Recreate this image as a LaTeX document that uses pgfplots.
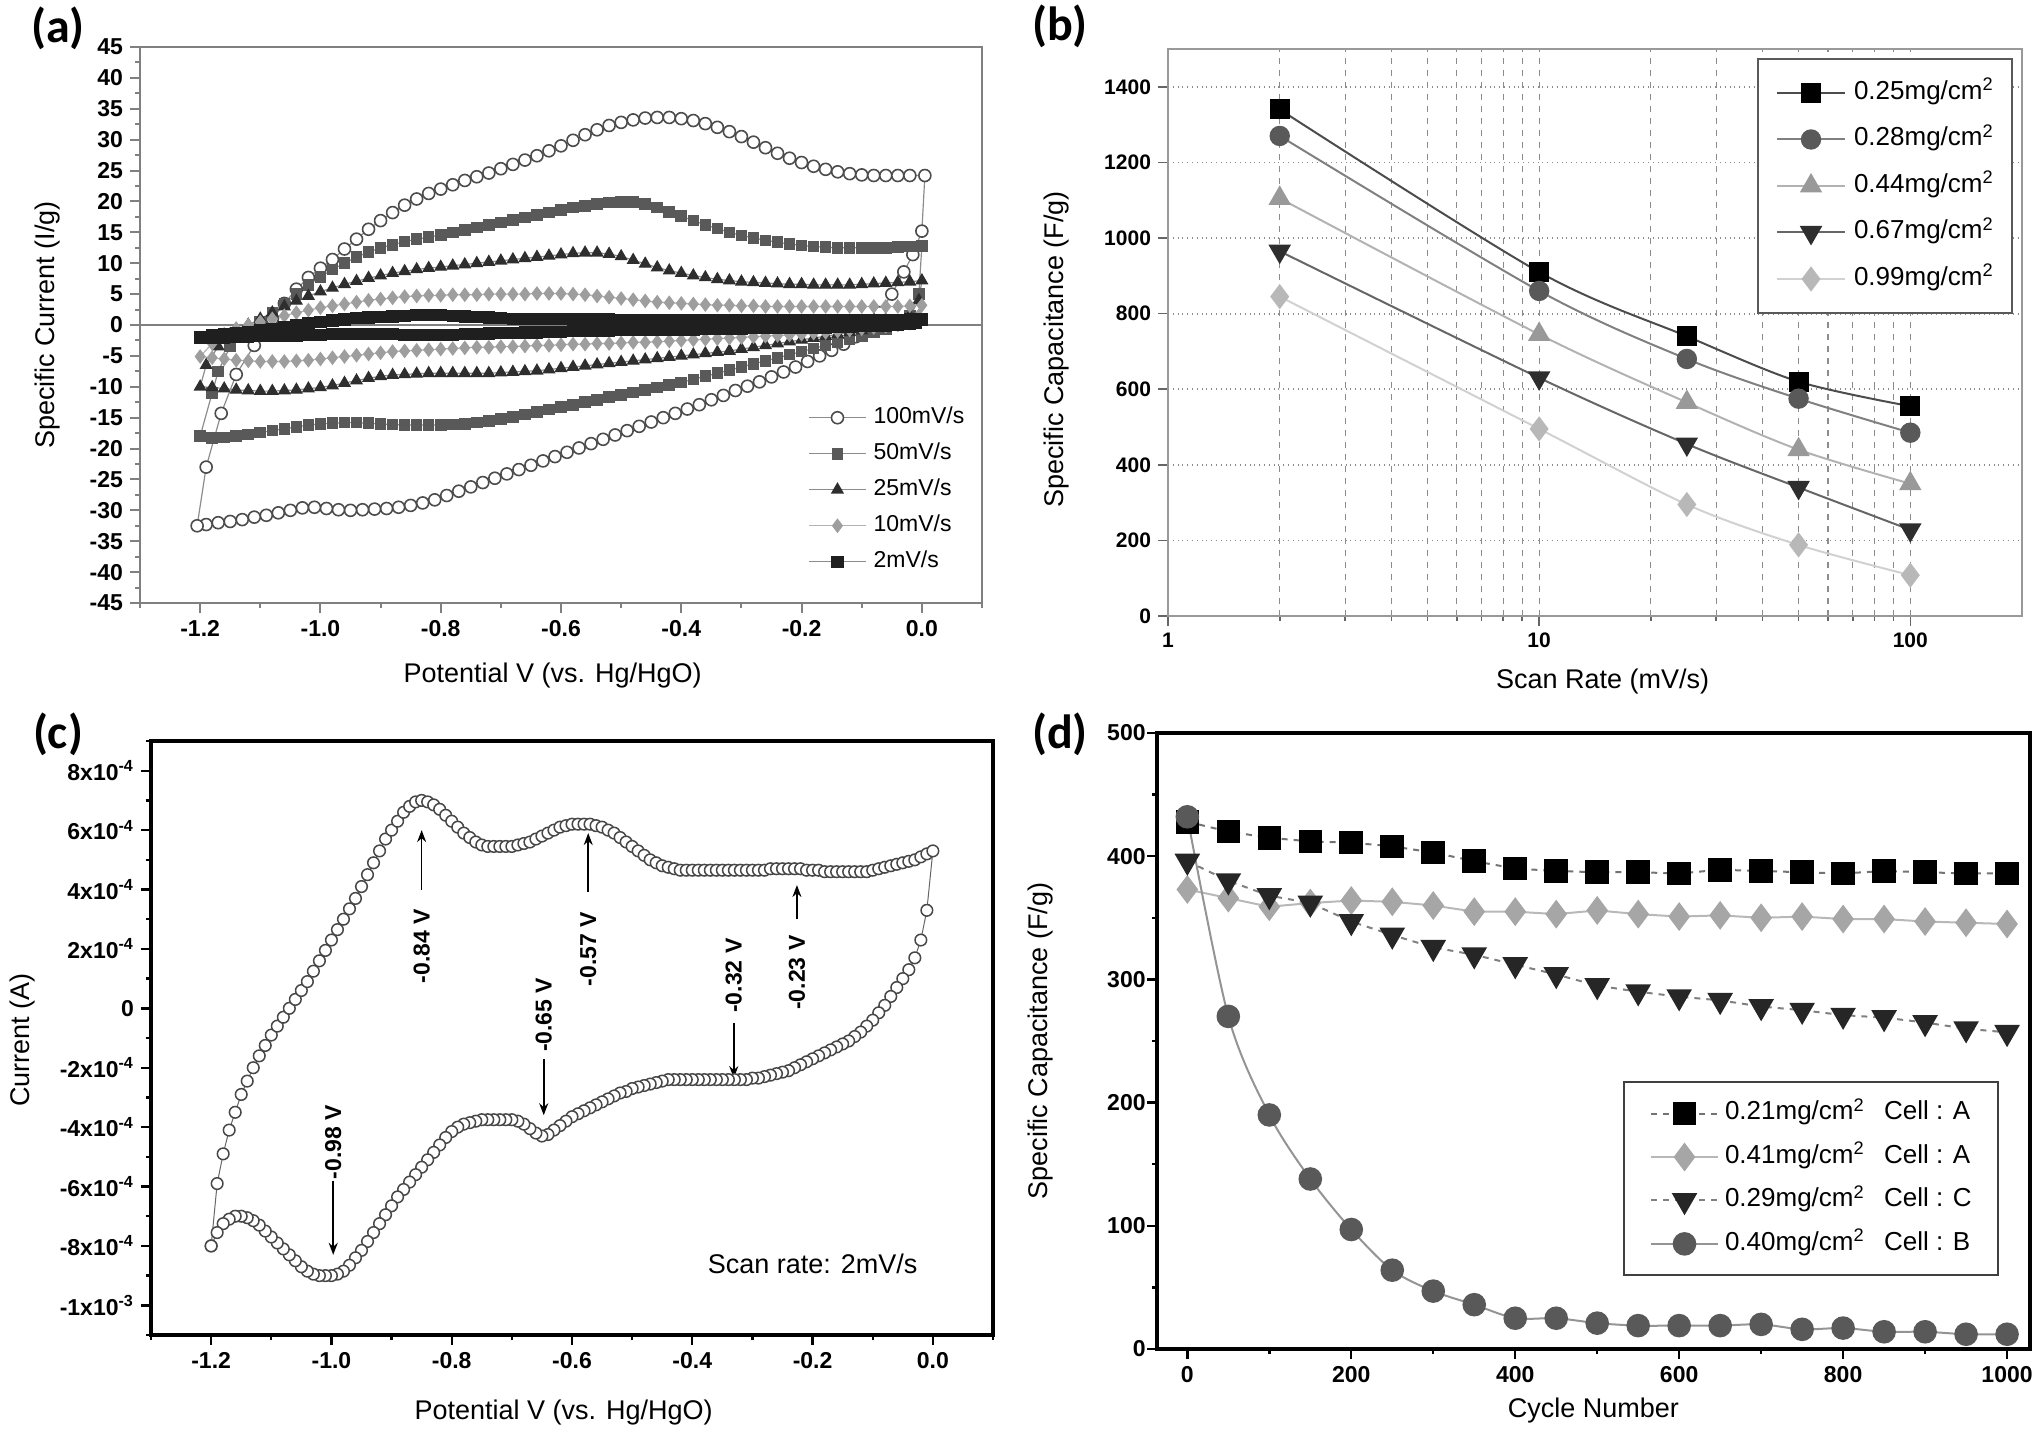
\documentclass[border=0pt]{standalone}
\usepackage{fontspec}
\setmainfont{Liberation Sans}
\newfontfamily\carlito{Carlito}
\usepackage{pgfplots}
\pgfplotsset{compat=1.18}
\usetikzlibrary{arrows.meta}

\pgfplotsset{
  myax/.style={scale only axis, anchor=south west, tick align=outside,
    xtick pos=left, ytick pos=left,
    xticklabel style={font=\fontsize{11.5}{13}\selectfont\bfseries},
    yticklabel style={font=\fontsize{11.5}{13}\selectfont\bfseries},
    label style={font=\fontsize{13.5}{16}\selectfont},
    major tick length=5pt, minor tick length=2.5pt,
    /pgf/number format/assume math mode=true,
    legend cell align=left},
  limg/.style={legend image code/.code={\draw[mark repeat=2,mark phase=2,##1] plot coordinates {(0pt,0pt) (#1/2,0pt) (#1,0pt)};}},
}

\begin{document}
\begin{tikzpicture}
\path[use as bounding box] (0pt,0pt) rectangle (1019.5pt,-723.5pt);

% ---------------- (a) ----------------
\begin{axis}[myax, at={(70pt,-301.5pt)}, width=421pt, height=278pt,
  xmin=-1.3, xmax=0.1, ymin=-45, ymax=45,
  xtick={-1.2,-1,-0.8,-0.6,-0.4,-0.2,0}, xticklabels={-1.2,-1.0,-0.8,-0.6,-0.4,-0.2,0.0},
  minor xtick={-1.3,-1.1,-0.9,-0.7,-0.5,-0.3,-0.1,0.1},
  ytick={-45,-40,-35,-30,-25,-20,-15,-10,-5,0,5,10,15,20,25,30,35,40,45},
  yticklabels={-45,-40,-35,-30,-25,-20,-15,-10,-5,0,5,10,15,20,25,30,35,40,45},
  minor ytick={-42.5,-37.5,-32.5,-27.5,-22.5,-17.5,-12.5,-7.5,-2.5,2.5,7.5,12.5,17.5,22.5,27.5,32.5,37.5,42.5},
  axis line style={black!50, line width=1pt}, every tick/.style={black!50, line width=1pt},
  xlabel={Potential V (vs. Hg/HgO)}, xlabel style={at={(axis description cs:0.49,-0.13)}, anchor=center},
  ylabel={Specific Current (I/g)}, ylabel style={at={(axis description cs:-0.11,0.5)}, anchor=center},
  limg=28.5pt,
  legend style={draw=none, fill=none, at={(rel axis cs:0.7933,0.3534)}, anchor=north west, inner sep=0pt,
    font=\fontsize{11.5}{13}\selectfont, nodes={inner sep=0pt, text height=8.3pt, text depth=2.5pt},
    row sep=7.2pt, /tikz/every odd column/.append style={column sep=3.5pt}},
]
\addplot[black!50, line width=1pt, forget plot] coordinates {(-1.3,0)(0.1,0)};
\addplot[color=black!45, line width=0.6pt, mark=*, mark size=3pt, mark options={fill=white, draw=black!70, line width=0.8pt}] coordinates {
(-1.08,1.0)(-1.06,3.5)(-1.04,5.8)(-1.02,7.7)(-1.00,9.2)(-0.98,10.6)(-0.96,12.3)(-0.94,13.9)(-0.92,15.5)(-0.90,16.9)(-0.88,18.2)(-0.86,19.4)(-0.84,20.4)(-0.82,21.3)(-0.80,22.0)(-0.78,22.7)(-0.76,23.4)(-0.74,24.0)(-0.72,24.6)(-0.70,25.3)(-0.68,26.0)(-0.66,26.7)(-0.64,27.4)(-0.62,28.2)(-0.60,29.0)(-0.58,29.9)(-0.56,30.8)(-0.54,31.6)(-0.52,32.3)(-0.50,32.8)(-0.48,33.2)(-0.46,33.5)(-0.44,33.6)(-0.42,33.6)(-0.40,33.4)(-0.38,33.1)(-0.36,32.6)(-0.34,32.0)(-0.32,31.3)(-0.30,30.5)(-0.28,29.6)(-0.26,28.7)(-0.24,27.8)(-0.22,27.0)(-0.20,26.3)(-0.18,25.7)(-0.16,25.2)(-0.14,24.8)(-0.12,24.5)(-0.10,24.3)(-0.08,24.2)(-0.06,24.2)(-0.04,24.2)(-0.02,24.2)(0.005,24.2)
(0.0,15.2)(-0.015,11.4)(-0.03,8.6)(-0.05,5.0)(-0.07,2.0)
(-0.09,-0.6)(-0.11,-1.9)(-0.13,-3.1)(-0.15,-4.1)(-0.17,-5.0)(-0.19,-5.9)(-0.21,-6.8)(-0.23,-7.6)(-0.25,-8.4)(-0.27,-9.2)(-0.29,-9.9)(-0.31,-10.6)(-0.33,-11.4)(-0.35,-12.1)(-0.37,-12.9)(-0.39,-13.6)(-0.41,-14.3)(-0.43,-15.0)(-0.45,-15.7)(-0.47,-16.4)(-0.49,-17.1)(-0.51,-17.8)(-0.53,-18.5)(-0.55,-19.2)(-0.57,-19.9)(-0.59,-20.6)(-0.61,-21.3)(-0.63,-22.0)(-0.65,-22.7)(-0.67,-23.4)(-0.69,-24.1)(-0.71,-24.8)(-0.73,-25.5)(-0.75,-26.2)(-0.77,-26.9)(-0.79,-27.6)(-0.81,-28.3)(-0.83,-28.8)(-0.85,-29.2)(-0.87,-29.5)(-0.89,-29.7)(-0.91,-29.8)(-0.93,-29.9)(-0.95,-30.0)(-0.97,-29.9)(-0.99,-29.7)(-1.01,-29.5)(-1.03,-29.6)(-1.05,-30.0)(-1.07,-30.4)(-1.09,-30.8)(-1.11,-31.1)(-1.13,-31.5)(-1.15,-31.8)(-1.17,-32.0)(-1.19,-32.3)(-1.205,-32.5)
(-1.19,-23.0)(-1.165,-14.3)(-1.14,-8.0)(-1.11,-3.3)(-1.08,1.0)};
\addlegendentry{100mV/s}
\addplot[color=black!45, line width=0.6pt, mark=square*, mark size=2.6pt, mark options={fill=black!65, draw=black!65}] coordinates {
(-1.12,-1.0)(-1.10,0.5)(-1.08,2.0)(-1.06,3.5)(-1.04,5.0)(-1.02,6.5)(-1.00,7.8)(-0.98,9.0)(-0.96,10.0)(-0.94,11.0)(-0.92,11.8)(-0.90,12.5)(-0.88,13.0)(-0.86,13.5)(-0.84,13.9)(-0.82,14.2)(-0.80,14.6)(-0.78,15.0)(-0.76,15.4)(-0.74,15.8)(-0.72,16.2)(-0.70,16.6)(-0.68,17.0)(-0.66,17.4)(-0.64,17.8)(-0.62,18.2)(-0.60,18.6)(-0.58,19.0)(-0.56,19.3)(-0.54,19.6)(-0.52,19.8)(-0.50,19.9)(-0.48,19.9)(-0.46,19.6)(-0.44,19.0)(-0.42,18.3)(-0.40,17.6)(-0.38,16.9)(-0.36,16.2)(-0.34,15.6)(-0.32,15.0)(-0.30,14.5)(-0.28,14.1)(-0.26,13.7)(-0.24,13.4)(-0.22,13.1)(-0.20,12.9)(-0.18,12.7)(-0.16,12.6)(-0.14,12.5)(-0.12,12.5)(-0.10,12.5)(-0.08,12.5)(-0.06,12.5)(-0.04,12.6)(-0.02,12.7)(0.0,12.8)
(-0.005,5.0)(-0.02,1.5)
(-0.04,0.0)(-0.06,-0.6)(-0.08,-1.2)(-0.10,-1.8)(-0.12,-2.3)(-0.14,-2.8)(-0.16,-3.3)(-0.18,-3.8)(-0.20,-4.3)(-0.22,-4.8)(-0.24,-5.3)(-0.26,-5.8)(-0.28,-6.3)(-0.30,-6.8)(-0.32,-7.3)(-0.34,-7.8)(-0.36,-8.3)(-0.38,-8.8)(-0.40,-9.3)(-0.42,-9.7)(-0.44,-10.1)(-0.46,-10.5)(-0.48,-10.9)(-0.50,-11.3)(-0.52,-11.7)(-0.54,-12.1)(-0.56,-12.5)(-0.58,-12.9)(-0.60,-13.3)(-0.62,-13.7)(-0.64,-14.1)(-0.66,-14.5)(-0.68,-14.9)(-0.70,-15.2)(-0.72,-15.5)(-0.74,-15.8)(-0.76,-16.0)(-0.78,-16.1)(-0.80,-16.2)(-0.82,-16.2)(-0.84,-16.2)(-0.86,-16.2)(-0.88,-16.1)(-0.90,-16.0)(-0.92,-15.9)(-0.94,-15.8)(-0.96,-15.8)(-0.98,-15.9)(-1.00,-16.0)(-1.02,-16.2)(-1.04,-16.5)(-1.06,-16.8)(-1.08,-17.1)(-1.10,-17.4)(-1.12,-17.7)(-1.14,-18.0)(-1.16,-18.2)(-1.18,-18.3)(-1.20,-18.0)
(-1.18,-11.0)(-1.17,-7.5)(-1.15,-3.5)(-1.12,-1.0)};
\addlegendentry{50mV/s}
\addplot[color=black!45, line width=0.6pt, mark=triangle*, mark size=3.2pt, mark options={fill=black!82, draw=black!82}] coordinates {
(-1.12,0.0)(-1.10,1.0)(-1.08,2.0)(-1.06,3.0)(-1.04,3.9)(-1.02,4.7)(-1.00,5.4)(-0.98,6.0)(-0.96,6.6)(-0.94,7.1)(-0.92,7.6)(-0.90,8.0)(-0.88,8.4)(-0.86,8.7)(-0.84,9.0)(-0.82,9.2)(-0.80,9.4)(-0.78,9.6)(-0.76,9.8)(-0.74,10.0)(-0.72,10.2)(-0.70,10.4)(-0.68,10.6)(-0.66,10.8)(-0.64,11.0)(-0.62,11.2)(-0.60,11.4)(-0.58,11.6)(-0.56,11.7)(-0.54,11.7)(-0.52,11.5)(-0.50,11.1)(-0.48,10.5)(-0.46,9.9)(-0.44,9.3)(-0.42,8.8)(-0.40,8.4)(-0.38,8.0)(-0.36,7.7)(-0.34,7.4)(-0.32,7.2)(-0.30,7.0)(-0.28,6.9)(-0.26,6.8)(-0.24,6.7)(-0.22,6.6)(-0.20,6.6)(-0.18,6.5)(-0.16,6.5)(-0.14,6.5)(-0.12,6.5)(-0.10,6.6)(-0.08,6.7)(-0.06,6.8)(-0.04,6.9)(-0.02,7.0)(0.0,7.2)
(-0.005,4.0)(-0.02,1.5)
(-0.04,0.3)(-0.06,-0.1)(-0.08,-0.5)(-0.10,-0.9)(-0.12,-1.2)(-0.14,-1.5)(-0.16,-1.8)(-0.18,-2.1)(-0.20,-2.4)(-0.22,-2.7)(-0.24,-3.0)(-0.26,-3.3)(-0.28,-3.6)(-0.30,-3.9)(-0.32,-4.2)(-0.34,-4.4)(-0.36,-4.6)(-0.38,-4.8)(-0.40,-5.0)(-0.42,-5.2)(-0.44,-5.4)(-0.46,-5.6)(-0.48,-5.8)(-0.50,-6.0)(-0.52,-6.2)(-0.54,-6.4)(-0.56,-6.6)(-0.58,-6.8)(-0.60,-7.0)(-0.62,-7.2)(-0.64,-7.4)(-0.66,-7.5)(-0.68,-7.6)(-0.70,-7.7)(-0.72,-7.8)(-0.74,-7.8)(-0.76,-7.8)(-0.78,-7.8)(-0.80,-7.8)(-0.82,-7.8)(-0.84,-7.9)(-0.86,-8.0)(-0.88,-8.1)(-0.90,-8.3)(-0.92,-8.6)(-0.94,-9.0)(-0.96,-9.4)(-0.98,-9.8)(-1.00,-10.1)(-1.02,-10.3)(-1.04,-10.5)(-1.06,-10.6)(-1.08,-10.7)(-1.10,-10.7)(-1.12,-10.6)(-1.14,-10.5)(-1.16,-10.3)(-1.18,-10.1)(-1.20,-10.0)
(-1.19,-6.5)(-1.17,-3.5)(-1.15,-1.5)(-1.12,0.0)};
\addlegendentry{25mV/s}
\addplot[color=black!30, line width=0.6pt, mark=diamond*, mark size=3.2pt, mark options={fill=black!38, draw=black!38}] coordinates {
(-1.14,-0.6)(-1.12,0.0)(-1.10,0.5)(-1.08,1.0)(-1.06,1.5)(-1.04,2.0)(-1.02,2.4)(-1.00,2.8)(-0.98,3.1)(-0.96,3.4)(-0.94,3.7)(-0.92,4.0)(-0.90,4.2)(-0.88,4.4)(-0.86,4.6)(-0.84,4.7)(-0.82,4.8)(-0.80,4.8)(-0.78,4.9)(-0.76,4.9)(-0.74,4.9)(-0.72,5.0)(-0.70,5.0)(-0.68,5.0)(-0.66,5.0)(-0.64,5.1)(-0.62,5.1)(-0.60,5.1)(-0.58,5.0)(-0.56,4.9)(-0.54,4.7)(-0.52,4.5)(-0.50,4.3)(-0.48,4.1)(-0.46,3.9)(-0.44,3.7)(-0.42,3.6)(-0.40,3.5)(-0.38,3.4)(-0.36,3.3)(-0.34,3.2)(-0.32,3.2)(-0.30,3.1)(-0.28,3.1)(-0.26,3.0)(-0.24,3.0)(-0.22,3.0)(-0.20,3.0)(-0.18,3.0)(-0.16,3.0)(-0.14,3.0)(-0.12,3.0)(-0.10,3.0)(-0.08,3.0)(-0.06,3.0)(-0.04,3.0)(-0.02,3.1)(0.0,3.2)
(-0.005,1.5)
(-0.02,0.3)(-0.04,0.0)(-0.06,-0.2)(-0.08,-0.4)(-0.10,-0.6)(-0.12,-0.8)(-0.14,-1.0)(-0.16,-1.2)(-0.18,-1.3)(-0.20,-1.5)(-0.22,-1.6)(-0.24,-1.7)(-0.26,-1.8)(-0.28,-1.9)(-0.30,-2.0)(-0.32,-2.1)(-0.34,-2.2)(-0.36,-2.3)(-0.38,-2.4)(-0.40,-2.5)(-0.42,-2.6)(-0.44,-2.7)(-0.46,-2.8)(-0.48,-2.8)(-0.50,-2.9)(-0.52,-3.0)(-0.54,-3.0)(-0.56,-3.1)(-0.58,-3.1)(-0.60,-3.2)(-0.62,-3.3)(-0.64,-3.3)(-0.66,-3.4)(-0.68,-3.5)(-0.70,-3.5)(-0.72,-3.6)(-0.74,-3.6)(-0.76,-3.7)(-0.78,-3.8)(-0.80,-3.9)(-0.82,-4.0)(-0.84,-4.1)(-0.86,-4.2)(-0.88,-4.3)(-0.90,-4.5)(-0.92,-4.7)(-0.94,-4.9)(-0.96,-5.1)(-0.98,-5.3)(-1.00,-5.5)(-1.02,-5.7)(-1.04,-5.8)(-1.06,-5.9)(-1.08,-5.9)(-1.10,-5.9)(-1.12,-5.8)(-1.14,-5.7)(-1.16,-5.5)(-1.18,-5.3)(-1.20,-5.1)
(-1.18,-3.0)(-1.16,-1.5)(-1.14,-0.6)};
\addlegendentry{10mV/s}
\addplot[color=black!45, line width=0.6pt, mark=square*, mark size=2.8pt, mark options={fill=black!88, draw=black!88}] coordinates {
(-1.20,-1.9)(-1.18,-1.7)(-1.16,-1.5)(-1.14,-1.3)(-1.12,-1.1)(-1.10,-0.9)(-1.08,-0.6)(-1.06,-0.3)(-1.04,0.0)(-1.02,0.3)(-1.00,0.5)(-0.98,0.7)(-0.96,0.9)(-0.94,1.1)(-0.92,1.2)(-0.90,1.3)(-0.88,1.4)(-0.86,1.5)(-0.84,1.6)(-0.82,1.6)(-0.80,1.6)(-0.78,1.5)(-0.76,1.4)(-0.74,1.3)(-0.72,1.2)(-0.70,1.1)(-0.68,1.0)(-0.66,1.0)(-0.64,1.0)(-0.62,1.0)(-0.60,1.0)(-0.58,1.0)(-0.56,1.0)(-0.54,0.9)(-0.52,0.9)(-0.50,0.8)(-0.48,0.8)(-0.46,0.8)(-0.44,0.8)(-0.42,0.8)(-0.40,0.8)(-0.38,0.8)(-0.36,0.8)(-0.34,0.8)(-0.32,0.8)(-0.30,0.8)(-0.28,0.8)(-0.26,0.8)(-0.24,0.8)(-0.22,0.8)(-0.20,0.8)(-0.18,0.8)(-0.16,0.8)(-0.14,0.8)(-0.12,0.8)(-0.10,0.8)(-0.08,0.8)(-0.06,0.8)(-0.04,0.8)(-0.02,0.9)(0.0,0.9)
(-0.01,0.4)(-0.02,0.2)(-0.04,0.0)(-0.06,-0.1)(-0.08,-0.2)(-0.10,-0.2)(-0.12,-0.3)(-0.14,-0.3)(-0.16,-0.4)(-0.18,-0.4)(-0.20,-0.4)(-0.22,-0.5)(-0.24,-0.5)(-0.26,-0.5)(-0.28,-0.5)(-0.30,-0.6)(-0.32,-0.6)(-0.34,-0.6)(-0.36,-0.6)(-0.38,-0.7)(-0.40,-0.7)(-0.42,-0.7)(-0.44,-0.7)(-0.46,-0.8)(-0.48,-0.8)(-0.50,-0.8)(-0.52,-0.9)(-0.54,-0.9)(-0.56,-1.0)(-0.58,-1.0)(-0.60,-1.1)(-0.62,-1.1)(-0.64,-1.2)(-0.66,-1.2)(-0.68,-1.3)(-0.70,-1.3)(-0.72,-1.4)(-0.74,-1.5)(-0.76,-1.5)(-0.78,-1.6)(-0.80,-1.6)(-0.82,-1.6)(-0.84,-1.6)(-0.86,-1.6)(-0.88,-1.5)(-0.90,-1.5)(-0.92,-1.5)(-0.94,-1.5)(-0.96,-1.5)(-0.98,-1.5)(-1.00,-1.6)(-1.02,-1.6)(-1.04,-1.7)(-1.06,-1.7)(-1.08,-1.8)(-1.10,-1.8)(-1.12,-1.9)(-1.14,-1.9)(-1.16,-2.0)(-1.18,-2.0)(-1.20,-2.0)};
\addlegendentry{2mV/s}
\end{axis}

% ---------------- (b) ----------------
\begin{axis}[myax, at={(584pt,-308pt)}, width=427pt, height=283.5pt,
  xmode=log, xmin=1, xmax=200, ymin=0, ymax=1500,
  xtick={1,10,100}, xticklabels={1,10,100},
  ytick={0,200,400,600,800,1000,1200,1400}, yticklabels={0,200,400,600,800,1000,1200,1400},
  xticklabel style={font=\fontsize{10.5}{12}\selectfont\bfseries},
  yticklabel style={font=\fontsize{10.5}{12}\selectfont\bfseries},
  xmajorgrids=true, xminorgrids=true, ymajorgrids=true,
  major x grid style={black!45, dashed, line width=0.6pt},
  minor x grid style={black!45, dashed, line width=0.6pt},
  major y grid style={black!45, dotted, line width=0.9pt},
  axis line style={black!40, line width=1pt}, every tick/.style={black!60, line width=0.8pt},
  xlabel={Scan Rate (mV/s)}, xlabel style={at={(axis description cs:0.509,-0.116)}, anchor=center},
  ylabel={Specific Capacitance (F/g)}, ylabel style={at={(axis description cs:-0.13,0.47)}, anchor=center},
  limg=34pt,
  legend style={draw=black!65, line width=1pt, fill=white, at={(rel axis cs:0.6897,0.984)}, anchor=north west,
    inner xsep=9pt, inner ysep=10.6pt,
    font=\fontsize{13}{15}\selectfont, nodes={inner sep=0pt, text height=9.5pt, text depth=3.2pt},
    row sep=10.55pt, /tikz/every odd column/.append style={column sep=4pt}},
]
\addplot[smooth, color=black!70, line width=1pt, mark=square*, mark size=4.5pt, mark options={fill=black, draw=black}] coordinates {(2,1340)(10,910)(25,740)(50,620)(100,555)};
\addlegendentry{0.25mg/cm\textsuperscript{2}}
\addplot[smooth, color=black!50, line width=1pt, mark=*, mark size=4.6pt, mark options={fill=black!65, draw=black!65}] coordinates {(2,1270)(10,860)(25,680)(50,575)(100,485)};
\addlegendentry{0.28mg/cm\textsuperscript{2}}
\addplot[smooth, color=black!30, line width=1pt, mark=triangle*, mark size=5.5pt, mark options={fill=black!40, draw=black!40}] coordinates {(2,1105)(10,745)(25,565)(50,440)(100,350)};
\addlegendentry{0.44mg/cm\textsuperscript{2}}
\addplot[smooth, color=black!60, line width=1pt, mark=triangle*, mark size=5.5pt, mark options={fill=black!82, draw=black!82, rotate=180}] coordinates {(2,965)(10,630)(25,455)(50,340)(100,228)};
\addlegendentry{0.67mg/cm\textsuperscript{2}}
\addplot[smooth, color=black!18, line width=1pt, mark=diamond*, mark size=5.5pt, mark options={fill=black!28, draw=black!28}] coordinates {(2,845)(10,495)(25,295)(50,188)(100,108)};
\addlegendentry{0.99mg/cm\textsuperscript{2}}
\end{axis}

% ---------------- (c) ----------------
\begin{axis}[myax, at={(75.5pt,-667.5pt)}, width=421pt, height=297pt,
  xmin=-1.3, xmax=0.1, ymin=-11, ymax=9,
  xtick={-1.2,-1,-0.8,-0.6,-0.4,-0.2,0}, xticklabels={-1.2,-1.0,-0.8,-0.6,-0.4,-0.2,0.0},
  minor xtick={-1.3,-1.1,-0.9,-0.7,-0.5,-0.3,-0.1,0.1},
  ytick={-10,-8,-6,-4,-2,0,2,4,6,8},
  yticklabels={-1x10\textsuperscript{-3},-8x10\textsuperscript{-4},-6x10\textsuperscript{-4},-4x10\textsuperscript{-4},-2x10\textsuperscript{-4},0,2x10\textsuperscript{-4},4x10\textsuperscript{-4},6x10\textsuperscript{-4},8x10\textsuperscript{-4}},
  minor ytick={-11,-9,-7,-5,-3,-1,1,3,5,7,9},
  axis line style={black, line width=1.75pt}, every tick/.style={black, line width=1.2pt},
  xlabel={Potential V (vs. Hg/HgO)}, xlabel style={at={(axis description cs:0.49,-0.131)}, anchor=center},
  ylabel={Current (A)}, ylabel style={at={(axis description cs:-0.153,0.497)}, anchor=center},
]
\addplot[color=black!60, line width=0.5pt, mark=*, mark size=2.9pt, mark options={fill=white, draw=black!72, line width=0.75pt}] coordinates {
(-1.20,-8.0)(-1.19,-5.9)(-1.18,-4.9)(-1.17,-4.1)(-1.16,-3.5)(-1.15,-2.9)(-1.14,-2.45)(-1.13,-2.0)(-1.12,-1.6)(-1.11,-1.25)(-1.10,-0.9)(-1.09,-0.6)(-1.08,-0.3)(-1.07,0.0)(-1.06,0.3)(-1.05,0.6)(-1.04,0.9)(-1.03,1.25)(-1.02,1.6)(-1.01,1.95)(-1.00,2.3)(-0.99,2.65)(-0.98,3.0)(-0.97,3.35)(-0.96,3.7)(-0.95,4.1)(-0.94,4.5)(-0.93,4.9)(-0.92,5.3)(-0.91,5.7)(-0.90,6.0)(-0.89,6.3)(-0.88,6.6)(-0.87,6.8)(-0.86,6.95)(-0.85,7.0)(-0.84,6.95)(-0.83,6.85)(-0.82,6.7)(-0.81,6.5)(-0.80,6.3)(-0.79,6.1)(-0.78,5.9)(-0.77,5.75)(-0.76,5.6)(-0.75,5.5)(-0.74,5.45)(-0.73,5.45)(-0.72,5.45)(-0.71,5.45)(-0.70,5.45)(-0.69,5.5)(-0.68,5.55)(-0.67,5.6)(-0.66,5.7)(-0.65,5.8)(-0.64,5.9)(-0.63,6.0)(-0.62,6.1)(-0.61,6.15)(-0.60,6.2)(-0.59,6.2)(-0.58,6.2)(-0.57,6.2)(-0.56,6.15)(-0.55,6.1)(-0.54,6.0)(-0.53,5.9)(-0.52,5.75)(-0.51,5.6)(-0.50,5.45)(-0.49,5.3)(-0.48,5.15)(-0.47,5.0)(-0.46,4.9)(-0.45,4.8)(-0.44,4.75)(-0.43,4.7)(-0.42,4.65)(-0.41,4.65)(-0.40,4.65)(-0.39,4.65)(-0.38,4.65)(-0.37,4.65)(-0.36,4.65)(-0.35,4.65)(-0.34,4.65)(-0.33,4.65)(-0.32,4.65)(-0.31,4.65)(-0.30,4.65)(-0.29,4.65)(-0.28,4.65)(-0.27,4.7)(-0.26,4.7)(-0.25,4.7)(-0.24,4.7)(-0.23,4.7)(-0.22,4.7)(-0.21,4.65)(-0.20,4.65)(-0.19,4.65)(-0.18,4.6)(-0.17,4.6)(-0.16,4.6)(-0.15,4.6)(-0.14,4.6)(-0.13,4.6)(-0.12,4.6)(-0.11,4.6)(-0.10,4.65)(-0.09,4.7)(-0.08,4.75)(-0.07,4.8)(-0.06,4.85)(-0.05,4.9)(-0.04,4.95)(-0.03,5.0)(-0.02,5.1)(-0.01,5.2)(0.00,5.3)
(-0.01,3.3)(-0.02,2.3)(-0.03,1.7)(-0.04,1.3)(-0.05,1.0)(-0.06,0.7)(-0.07,0.4)(-0.08,0.1)(-0.09,-0.15)(-0.10,-0.4)(-0.11,-0.6)(-0.12,-0.8)(-0.13,-0.95)(-0.14,-1.1)(-0.15,-1.2)(-0.16,-1.3)(-0.17,-1.4)(-0.18,-1.5)(-0.19,-1.6)(-0.20,-1.7)(-0.21,-1.8)(-0.22,-1.9)(-0.23,-2.0)(-0.24,-2.1)(-0.25,-2.15)(-0.26,-2.2)(-0.27,-2.25)(-0.28,-2.3)(-0.29,-2.35)(-0.30,-2.35)(-0.31,-2.4)(-0.32,-2.4)(-0.33,-2.4)(-0.34,-2.4)(-0.35,-2.4)(-0.36,-2.4)(-0.37,-2.4)(-0.38,-2.4)(-0.39,-2.4)(-0.40,-2.4)(-0.41,-2.4)(-0.42,-2.4)(-0.43,-2.4)(-0.44,-2.4)(-0.45,-2.45)(-0.46,-2.5)(-0.47,-2.55)(-0.48,-2.6)(-0.49,-2.65)(-0.50,-2.7)(-0.51,-2.8)(-0.52,-2.85)(-0.53,-2.95)(-0.54,-3.05)(-0.55,-3.15)(-0.56,-3.25)(-0.57,-3.35)(-0.58,-3.45)(-0.59,-3.55)(-0.60,-3.65)(-0.61,-3.8)(-0.62,-3.95)(-0.63,-4.1)(-0.64,-4.25)(-0.65,-4.3)(-0.66,-4.2)(-0.67,-4.05)(-0.68,-3.9)(-0.69,-3.8)(-0.70,-3.75)(-0.71,-3.75)(-0.72,-3.75)(-0.73,-3.75)(-0.74,-3.75)(-0.75,-3.75)(-0.76,-3.8)(-0.77,-3.85)(-0.78,-3.9)(-0.79,-4.0)(-0.80,-4.15)(-0.81,-4.35)(-0.82,-4.6)(-0.83,-4.85)(-0.84,-5.1)(-0.85,-5.35)(-0.86,-5.6)(-0.87,-5.85)(-0.88,-6.1)(-0.89,-6.35)(-0.90,-6.65)(-0.91,-6.95)(-0.92,-7.25)(-0.93,-7.55)(-0.94,-7.85)(-0.95,-8.15)(-0.96,-8.4)(-0.97,-8.65)(-0.98,-8.85)(-0.99,-8.95)(-1.00,-9.0)(-1.01,-9.0)(-1.02,-9.0)(-1.03,-8.95)(-1.04,-8.85)(-1.05,-8.7)(-1.06,-8.5)(-1.07,-8.3)(-1.08,-8.1)(-1.09,-7.9)(-1.10,-7.7)(-1.11,-7.5)(-1.12,-7.3)(-1.13,-7.15)(-1.14,-7.05)(-1.15,-7.0)(-1.16,-7.0)(-1.17,-7.1)(-1.18,-7.25)(-1.19,-7.55)(-1.20,-8.0)};
\draw[-{Stealth[length=6pt,width=4.5pt]}, line width=0.8pt] (axis cs:-0.85,4.0) -- (axis cs:-0.85,6.0);
\draw[-{Stealth[length=6pt,width=4.5pt]}, line width=0.8pt] (axis cs:-0.573,3.9) -- (axis cs:-0.573,5.9);
\draw[-{Stealth[length=6pt,width=4.5pt]}, line width=0.8pt] (axis cs:-0.226,3.0) -- (axis cs:-0.226,4.15);
\draw[-{Stealth[length=6pt,width=4.5pt]}, line width=0.8pt] (axis cs:-0.331,-0.5) -- (axis cs:-0.331,-2.35);
\draw[-{Stealth[length=6pt,width=4.5pt]}, line width=0.8pt] (axis cs:-0.647,-1.7) -- (axis cs:-0.647,-3.6);
\draw[-{Stealth[length=6pt,width=4.5pt]}, line width=0.8pt] (axis cs:-0.997,-5.8) -- (axis cs:-0.997,-8.3);
\begin{scope}[every node/.style={rotate=90, font=\fontsize{11.5}{13}\selectfont\bfseries}]
\node at (axis cs:-0.85,2.1) {-0.84 V};
\node at (axis cs:-0.573,2.0) {-0.57 V};
\node at (axis cs:-0.226,1.2) {-0.23 V};
\node at (axis cs:-0.331,1.1) {-0.32 V};
\node at (axis cs:-0.647,-0.22) {-0.65 V};
\node at (axis cs:-0.997,-4.5) {-0.98 V};
\end{scope}
\node[font=\fontsize{13.5}{16}\selectfont] at (axis cs:-0.2,-8.6) {Scan rate: 2mV/s};
\end{axis}

% ---------------- (d) ----------------
\begin{axis}[myax, at={(578.5pt,-674.5pt)}, width=436.5pt, height=308pt,
  xmin=-37, xmax=1028, ymin=0, ymax=500,
  xtick={0,200,400,600,800,1000}, xticklabels={0,200,400,600,800,1000},
  minor xtick={100,300,500,700,900},
  ytick={0,100,200,300,400,500}, yticklabels={0,100,200,300,400,500},
  yticklabel style={inner xsep=0.5pt},
  minor ytick={50,150,250,350,450},
  axis line style={black, line width=1.75pt}, every tick/.style={black, line width=1.2pt},
  xlabel={Cycle Number}, xlabel style={at={(axis description cs:0.5,-0.1)}, anchor=center},
  ylabel={Specific Capacitance (F/g)}, ylabel style={at={(axis description cs:-0.134,0.5)}, anchor=center},
  limg=33.5pt,
  legend style={draw=black!75, line width=1pt, fill=white, at={(rel axis cs:0.5338,0.435)}, anchor=north west,
    inner xsep=13pt, inner ysep=9.4pt,
    font=\fontsize{13}{15}\selectfont, nodes={inner sep=0pt, text height=9.5pt, text depth=3.2pt},
    row sep=8.97pt, /tikz/every odd column/.append style={column sep=3pt}},
]
\addplot[color=black!55, dashed, line width=1pt, mark=square*, mark size=5.4pt, mark options={solid, fill=black, draw=black}] coordinates {(0,428)(50,420)(100,415)(150,412)(200,411)(250,408)(300,403)(350,396)(400,390)(450,388)(500,387)(550,387)(600,386)(650,389)(700,388)(750,387)(800,386)(850,388)(900,387)(950,386)(1000,386)};
\addlegendentry{\makebox[79.5pt][l]{0.21mg/cm\textsuperscript{2}}Cell : A}
\addplot[color=black!28, line width=1pt, mark=diamond*, mark size=6.4pt, mark options={fill=black!35, draw=black!35}] coordinates {(0,373)(50,366)(100,359)(150,362)(200,364)(250,363)(300,360)(350,355)(400,355)(450,353)(500,356)(550,353)(600,351)(650,352)(700,350)(750,351)(800,349)(850,349)(900,347)(950,346)(1000,345)};
\addlegendentry{\makebox[79.5pt][l]{0.41mg/cm\textsuperscript{2}}Cell : A}
\addplot[color=black!50, dashed, line width=1pt, mark=triangle*, mark size=6.4pt, mark options={solid, fill=black!85, draw=black!85, rotate=180}] coordinates {(0,396)(50,380)(100,368)(150,362)(200,347)(250,336)(300,326)(350,320)(400,312)(450,304)(500,295)(550,290)(600,286)(650,283)(700,278)(750,275)(800,271)(850,269)(900,265)(950,260)(1000,257)};
\addlegendentry{\makebox[79.5pt][l]{0.29mg/cm\textsuperscript{2}}Cell : C}
\addplot[smooth, color=black!42, line width=1pt, mark=*, mark size=5.4pt, mark options={fill=black!65, draw=black!65}] coordinates {(0,432)(50,270)(100,190)(150,138)(200,97)(250,64)(300,47)(350,36)(400,25)(450,25)(500,21)(550,19)(600,19)(650,19)(700,20)(750,16)(800,17)(850,14)(900,14)(950,12)(1000,12)};
\addlegendentry{\makebox[79.5pt][l]{0.40mg/cm\textsuperscript{2}}Cell : B}
\end{axis}

% panel labels
\begin{scope}[every node/.style={font=\carlito\bfseries\fontsize{24}{28}\selectfont}]
\node at (29pt,-14pt) {(a)};
\node at (530pt,-13pt) {(b)};
\node at (29pt,-367pt) {(c)};
\node at (530pt,-367pt) {(d)};
\end{scope}
\end{tikzpicture}
\end{document}
